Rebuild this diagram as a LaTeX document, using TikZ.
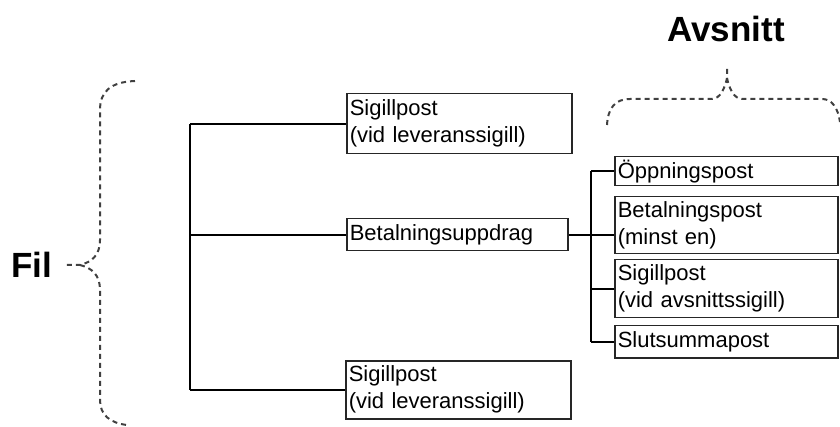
\documentclass[tikz,border=0pt]{standalone}
\usepackage{fontspec}
\setmainfont{Liberation Sans}
\begin{document}
\begin{tikzpicture}[x=1pt,y=-1pt,
  rec/.style={draw=black!85,line width=1.5pt,anchor=north west,inner xsep=3pt,inner ysep=0pt,
    align=left,font=\fontsize{22}{27}\selectfont},
  conn/.style={draw=black,line width=1.6pt},
  brace/.style={draw=black!75,line width=2pt,dash pattern=on 5pt off 4pt},
  big/.style={font=\fontsize{35}{40}\selectfont\bfseries}]
\useasboundingbox (0,0) rectangle (840,427);
% boxes
\node[rec,minimum width=225pt,minimum height=60pt,text width=219pt] (b1) at (346,93) {Sigillpost\\(vid leveranssigill)};
\node[rec,minimum width=221pt,minimum height=32pt,text width=215pt] (b2) at (346,218) {Betalningsuppdrag};
\node[rec,minimum width=225pt,minimum height=58pt,text width=219pt] (b3) at (345,360) {Sigillpost\\(vid leveranssigill)};
\node[rec,minimum width=223pt,minimum height=29pt,text width=217pt] (r1) at (614,156) {Öppningspost};
\node[rec,minimum width=223pt,minimum height=57pt,text width=217pt] (r2) at (614,196) {Betalningspost\\(minst en)};
\node[rec,minimum width=223pt,minimum height=58pt,text width=217pt] (r3) at (614,259) {Sigillpost\\(vid avsnittssigill)};
\node[rec,minimum width=223pt,minimum height=32pt,text width=217pt] (r4) at (614,325) {Slutsummapost};
% labels
\node[big] (fil) at (32,265) {Fil};
\node[big] (avs) at (726,29) {Avsnitt};
% connectors
\coordinate (tl) at (190,0);
\coordinate (tr) at (591,0);
\draw[conn] (tl |- b1.west) -- (tl |- b3.west);
\draw[conn] (b1.west) -- (b1.west -| tl);
\draw[conn] (b2.west) -- (b2.west -| tl);
\draw[conn] (b3.west) -- (b3.west -| tl);
\draw[conn] (b2.east) -- (b2.east -| r2.west);
\draw[conn] (tr |- r1.west) -- (tr |- r4.west);
\draw[conn] (r1.west) -- (r1.west -| tr);
\draw[conn] (r3.west) -- (r3.west -| tr);
\draw[conn] (r4.west) -- (r4.west -| tr);
% braces
\coordinate (ftip) at (65,265);
\coordinate (atip) at (727,66);
\draw[brace] (135,81) .. controls (110,82) and (100,92) .. (100,110) -- (100,240)
  .. controls (100,255) and (92,262) .. (80,265) -- (ftip);
\draw[brace] (80,265) .. controls (92,268) and (100,275) .. (100,290) -- (100,400)
  .. controls (100,415) and (110,423) .. (127,425);
\draw[brace] (607,125) .. controls (608,108) and (615,99) .. (630,99) -- (712,99)
  .. controls (720,99) and (725,88) .. (727,78) -- (atip);
\draw[brace] (727,78) .. controls (729,88) and (734,99) .. (742,99) -- (822,99)
  .. controls (832,99) and (838,108) .. (840,122);
\end{tikzpicture}
\end{document}
